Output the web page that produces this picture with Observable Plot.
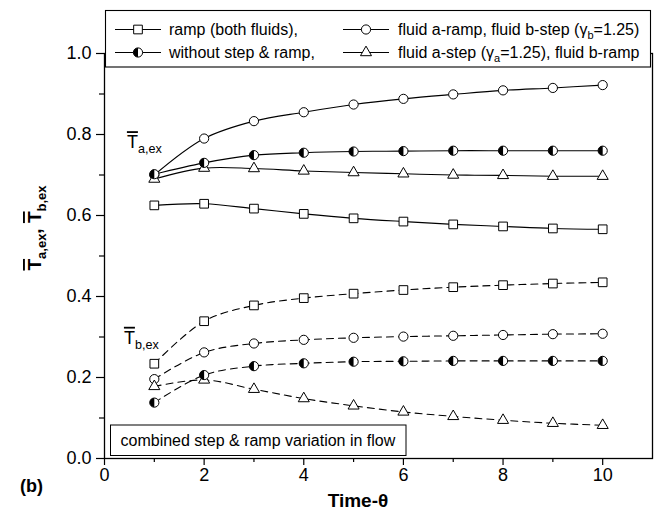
<!DOCTYPE html>
<html><head><meta charset="utf-8">
<script src="https://cdn.jsdelivr.net/npm/d3@7"></script>
<script src="https://cdn.jsdelivr.net/npm/@observablehq/plot@0.6"></script>
<style>
body{margin:0;background:#fff;}
#chart{position:relative;width:665px;height:514px;}
</style></head><body><div id="chart"></div>
<script>
// ---- data ----
const timeSteps = [1, 2, 3, 4, 5, 6, 7, 8, 9, 10];
const seriesNames = ["ramp (both fluids)", "fluid a-ramp, fluid b-step", "fluid a-step, fluid b-ramp", "without step & ramp"];
// fluid a exit temperature (solid lines)
const TaRamp  = [0.625, 0.629, 0.617, 0.604, 0.593, 0.585, 0.578, 0.573, 0.568, 0.566];
const TaBStep = [0.700, 0.790, 0.833, 0.855, 0.874, 0.888, 0.899, 0.909, 0.915, 0.922];
const TaAStep = [0.690, 0.717, 0.716, 0.710, 0.706, 0.703, 0.700, 0.699, 0.697, 0.697];
const TaNone  = [0.702, 0.730, 0.749, 0.755, 0.758, 0.759, 0.760, 0.760, 0.760, 0.760];
// fluid b exit temperature (dashed lines)
const TbRamp  = [0.234, 0.339, 0.378, 0.396, 0.407, 0.416, 0.423, 0.428, 0.432, 0.435];
const TbBStep = [0.196, 0.262, 0.284, 0.293, 0.298, 0.301, 0.303, 0.305, 0.307, 0.308];
const TbAStep = [0.178, 0.194, 0.171, 0.148, 0.130, 0.115, 0.104, 0.0945, 0.087, 0.082];
const TbNone  = [0.138, 0.206, 0.228, 0.235, 0.239, 0.240, 0.241, 0.241, 0.241, 0.241];
const xMajorTicks = [0, 2, 4, 6, 8, 10];
const xMinorTicks = [1, 3, 5, 7, 9];
const yMajorTicks = [0, 0.2, 0.4, 0.6, 0.8, 1.0];
const yMinorTicks = [0.1, 0.3, 0.5, 0.7, 0.9];

// ---- build table ----
const aValues = [TaRamp, TaBStep, TaAStep, TaNone];
const bValues = [TbRamp, TbBStep, TbAStep, TbNone];
const rows = [];
seriesNames.forEach((s, k) => {
  timeSteps.forEach((t, i) => {
    rows.push({t, v: aValues[k][i], series: s, fluid: "a"});
    rows.push({t, v: bValues[k][i], series: s, fluid: "b"});
  });
});
const halfLeft = {
  draw(ctx, size) {
    const r = Math.sqrt(size / Math.PI);
    ctx.moveTo(0, -r);
    ctx.arc(0, 0, r, -Math.PI / 2, Math.PI / 2, true);
    ctx.closePath();
  }
};
const symR = {square: 4.9, circle: 4.6, triangle: 4.1};
const sel = s => rows.filter(d => d.series === s);

const plot = Plot.plot({
  width: 665, height: 514,
  marginLeft: 104, marginRight: 13, marginTop: 53, marginBottom: 56,
  x: {domain: [0, 11]},
  y: {domain: [0, 1]},
  style: {fontFamily: "'Liberation Sans', Arial, sans-serif", fontSize: "18px", color: "black", background: "white", overflow: "visible"},
  marks: [
    Plot.line(rows.filter(d => d.fluid === "a"), {x: "t", y: "v", z: "series", curve: "catmull-rom", stroke: "black", strokeWidth: 1.1}),
    Plot.line(rows.filter(d => d.fluid === "b"), {x: "t", y: "v", z: "series", curve: "catmull-rom", stroke: "black", strokeWidth: 1.1, strokeDasharray: "7,5"}),
    Plot.dot(sel(seriesNames[0]), {x: "t", y: "v", symbol: "square", r: symR.square, fill: "white", stroke: "black", strokeWidth: 1}),
    Plot.dot(sel(seriesNames[1]), {x: "t", y: "v", symbol: "circle", r: symR.circle, fill: "white", stroke: "black", strokeWidth: 1}),
    Plot.dot(sel(seriesNames[2]), {x: "t", y: "v", symbol: "triangle", r: symR.triangle, fill: "white", stroke: "black", strokeWidth: 1}),
    Plot.dot(sel(seriesNames[3]), {x: "t", y: "v", symbol: "circle", r: symR.circle, fill: "white", stroke: "black", strokeWidth: 1}),
    Plot.dot(sel(seriesNames[3]), {x: "t", y: "v", symbol: halfLeft, r: symR.circle, fill: "black", stroke: "none"}),
    Plot.axisX(xMajorTicks, {tickSize: 7, tickPadding: 3, label: null, strokeWidth: 1.2}),
    Plot.axisX(xMinorTicks, {tickSize: 4, tickFormat: () => "", label: null, strokeWidth: 1.2}),
    Plot.axisY(yMajorTicks, {tickSize: 8, tickPadding: 5, tickFormat: d3.format(".1f"), label: null, strokeWidth: 1.2}),
    Plot.axisY(yMinorTicks, {tickSize: 5, tickFormat: () => "", label: null, strokeWidth: 1.2}),
    Plot.frame({stroke: "black", strokeWidth: 1.3})
  ]
});
document.getElementById("chart").appendChild(plot);

// ---- annotations ----
const svg = d3.select(plot);
const xs = plot.scale("x"), ys = plot.scale("y");
const font = "'Liberation Sans', Arial, sans-serif";

function labelT(x, y, sub, size, g) {
  const t = g.append("text").attr("x", x).attr("y", y).attr("font-family", font)
    .attr("text-anchor", "start").attr("font-size", size).attr("fill", "black");
  t.append("tspan").text("T").style("text-decoration", "overline");
  t.append("tspan").attr("dy", size * 0.28).attr("font-size", size * 0.7).text(sub);
  return t;
}
labelT(xs.apply(0.46), ys.apply(0.765), "a,ex", 18, svg);
labelT(xs.apply(0.40), ys.apply(0.282), "b,ex", 18, svg);

// y-axis title
const yt = svg.append("text").attr("transform", "translate(41,228) rotate(-90)")
  .attr("text-anchor", "middle").attr("font-family", font).attr("font-size", 19)
  .attr("font-weight", "bold").attr("fill", "black");
yt.append("tspan").text("T").style("text-decoration", "overline");
yt.append("tspan").attr("dy", 5).attr("font-size", 13).text("a,ex");
yt.append("tspan").attr("dy", -5).text(", ");
yt.append("tspan").text("T").style("text-decoration", "overline");
yt.append("tspan").attr("dy", 5).attr("font-size", 13).text("b,ex");

// x-axis title
svg.append("text").attr("x", 358).attr("y", 507).attr("text-anchor", "middle")
  .attr("font-family", font).attr("font-size", 19).attr("font-weight", "bold").text("Time-θ");
svg.append("text").attr("x", 20).attr("y", 492).attr("text-anchor", "start")
  .attr("font-family", font).attr("font-size", 18).attr("font-weight", "bold").text("(b)");

// annotation box
svg.append("rect").attr("x", 110.5).attr("y", 425).attr("width", 295.5).attr("height", 30.5)
  .attr("fill", "white").attr("stroke", "black").attr("stroke-width", 1);
svg.append("text").attr("x", 120.5).attr("y", 446).attr("text-anchor", "start")
  .attr("font-family", font).attr("font-size", 16)
  .text("combined step & ramp variation in flow");

// legend
const lg = svg.append("g").attr("text-anchor", "start");
lg.append("rect").attr("x", 105.5).attr("y", 10.5).attr("width", 545).attr("height", 56.5)
  .attr("fill", "white").attr("stroke", "black").attr("stroke-width", 1.1);
const legendItems = [
  {sym: d3.symbolSquare, r: symR.square, half: false, col: 0, row: 0, parts: [["ramp (both fluids),"]]},
  {sym: d3.symbolCircle, r: symR.circle, half: true, col: 0, row: 1, parts: [["without step & ramp,"]]},
  {sym: d3.symbolCircle, r: symR.circle, half: false, col: 1, row: 0, parts: [["fluid a-ramp, fluid b-step (γ"], ["b", "sub"], ["=1.25)"]]},
  {sym: d3.symbolTriangle, r: symR.triangle, half: false, col: 1, row: 1, parts: [["fluid a-step (γ"], ["a", "sub"], ["=1.25), fluid b-ramp"]]}
];
const colX = [{l0: 115, l1: 161, s: 138, tx: 169}, {l0: 343, l1: 389, s: 366, tx: 398}];
const rowY = [29.5, 52.5];
legendItems.forEach(it => {
  const c = colX[it.col], y = rowY[it.row];
  lg.append("line").attr("x1", c.l0).attr("x2", c.l1).attr("y1", y).attr("y2", y)
    .attr("stroke", "black").attr("stroke-width", 1.1);
  lg.append("path").attr("transform", `translate(${c.s},${y})`)
    .attr("d", d3.symbol(it.sym, it.r * it.r * Math.PI)())
    .attr("fill", "white").attr("stroke", "black").attr("stroke-width", 1);
  if (it.half) {
    lg.append("path").attr("transform", `translate(${c.s},${y})`)
      .attr("d", d3.symbol(halfLeft, it.r * it.r * Math.PI)()).attr("fill", "black");
  }
  const t = lg.append("text").attr("x", c.tx).attr("y", y + 5.5).attr("text-anchor", "start")
    .attr("font-family", font).attr("font-size", 16);
  let shifted = false;
  it.parts.forEach(p => {
    if (p[1] === "sub") { t.append("tspan").attr("dy", 4).attr("font-size", 11).text(p[0]); shifted = true; }
    else { t.append("tspan").attr("dy", shifted ? -4 : 0).text(p[0]); shifted = false; }
  });
});
</script></body></html>
